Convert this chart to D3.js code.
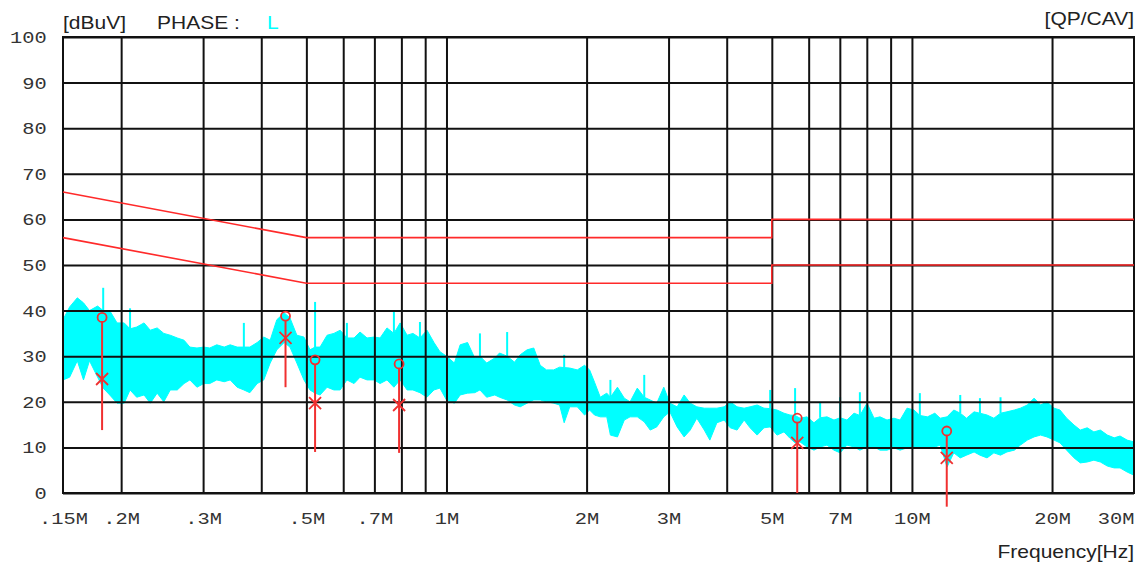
<!DOCTYPE html>
<html>
<head>
<meta charset="utf-8">
<script src="https://cdn.jsdelivr.net/npm/d3@7"></script>
<style>
  html, body { margin: 0; padding: 0; background: #fff; }
  svg { display: block; }
</style>
</head>
<body>
<svg id="chart" width="1143" height="565"></svg>
<script>
// axis ticks
const yTicks = [0, 10, 20, 30, 40, 50, 60, 70, 80, 90, 100];
const xTickMHz = [0.15, 0.2, 0.3, 0.5, 0.7, 1, 2, 3, 5, 7, 10, 20, 30];
const xTickLabels = ['.15M', '.2M', '.3M', '.5M', '.7M', '1M', '2M', '3M', '5M', '7M', '10M', '20M', '30M'];
const xGridMHz = [0.2, 0.3, 0.4, 0.5, 0.6, 0.7, 0.8, 0.9, 1, 2, 3, 4, 5, 6, 7, 8, 9, 10, 20];

// limit lines (dBuV)
const qpLimitMHz = [0.15, 0.5, 5, 5, 30];
const qpLimit    = [66, 56, 56, 60, 60];
const avLimitMHz = [0.15, 0.5, 5, 5, 30];
const avLimit    = [56, 46, 46, 50, 50];

// peak markers
const peakMHz    = [0.182, 0.451, 0.522, 0.791, 5.67, 11.88];
const peakQP     = [38.5, 38.8, 29.2, 28.3, 16.4, 13.6];
const peakAV     = [25.0, 34.0, 19.7, 19.3, 11.0, 7.7];
const peakBottom = [13.8, 23.2, 9.0, 8.8, 0.0, -3.0];

// scan trace body, min / max per column
const traceMHz = [0.150,0.155,0.161,0.166,0.171,0.178,0.183,0.189,0.196,0.203,0.209,0.216,0.224,0.231,0.239,0.247,0.255,0.264,0.273,0.281,
  0.291,0.301,0.310,0.321,0.333,0.343,0.355,0.367,0.378,0.392,0.405,0.418,0.432,0.448,0.461,0.477,0.494,0.509,0.522,0.535,
  0.554,0.573,0.591,0.611,0.633,0.652,0.675,0.699,0.720,0.745,0.771,0.795,0.823,0.847,0.877,0.908,0.940,0.968,1.00,1.04,
  1.07,1.11,1.15,1.18,1.22,1.27,1.30,1.35,1.40,1.44,1.49,1.54,1.59,1.64,1.70,1.75,1.79,1.84,1.91,1.98,
  2.03,2.08,2.14,2.21,2.25,2.33,2.41,2.48,2.57,2.66,2.74,2.83,2.93,3.02,3.13,3.24,3.34,3.45,3.58,3.68,
  3.81,3.95,4.07,4.21,4.36,4.49,4.65,4.81,4.96,5.13,5.31,5.47,5.61,5.75,5.95,6.16,6.35,6.57,6.80,7.01,
  7.25,7.51,7.73,8.01,8.29,8.54,8.84,9.15,9.43,9.76,10.1,10.4,10.8,11.2,11.5,11.9,12.3,12.7,13.1,13.6,
  14.0,14.5,15.0,15.5,16.0,16.6,17.1,17.7,18.3,18.9,19.5,20.2,20.8,21.5,22.3,23.0,23.8,24.6,25.4,26.3,
  27.2,28.0,29.0,30.0];
const traceLo = [24.8,25.4,29.0,24.8,29.0,25.4,23.0,21.5,19.7,19.7,22.6,21.0,21.5,19.7,21.9,20.0,22.6,22.6,24.0,24.8,
  23.2,24.0,24.0,24.8,24.4,24.8,23.2,22.6,22.0,24.0,24.8,28.5,31.4,33.0,32.0,28.5,24.8,22.6,21.9,21.5,
  23.2,22.6,22.6,24.8,24.0,25.4,24.8,24.8,24.0,24.8,23.2,24.8,22.6,22.6,22.0,21.0,22.6,23.0,20.4,19.7,
  21.5,21.9,22.0,22.6,21.0,21.5,21.0,20.4,19.3,18.9,19.7,20.4,20.4,20.0,19.7,19.3,15.4,18.9,18.9,17.1,
  18.2,17.1,16.7,16.7,12.7,12.3,16.0,16.7,16.7,15.6,13.8,14.5,16.7,17.8,14.5,12.3,13.8,16.4,13.8,11.6,
  15.4,16.0,14.3,13.8,16.0,14.3,12.7,14.3,14.5,12.7,13.4,12.0,11.0,11.2,10.1,9.4,10.1,10.5,9.4,8.8,
  10.5,10.1,9.4,10.1,10.1,9.4,9.4,9.9,9.4,9.9,10.1,10.1,10.1,10.1,10.5,5.7,8.8,7.7,8.3,9.0,
  8.3,7.7,8.8,8.3,9.0,9.4,10.5,11.6,12.3,12.7,12.3,11.6,11.0,9.4,7.7,6.6,6.8,7.2,6.8,5.9,
  5.5,5.5,4.6,3.9];
const traceHi = [38.0,40.8,42.8,41.7,40.0,41.0,40.0,40.0,37.3,37.3,36.0,36.4,37.3,35.7,36.2,35.0,34.6,34.0,33.5,32.0,
  31.8,32.0,31.8,32.5,32.0,32.5,32.0,32.0,32.0,33.0,34.2,33.5,38.0,39.5,38.4,34.6,34.2,31.4,32.0,32.0,
  34.6,35.0,35.7,34.0,34.0,35.3,34.0,34.2,34.0,36.2,35.0,37.3,34.6,35.0,34.0,35.7,33.0,31.0,30.0,28.5,
  32.5,33.0,29.6,30.0,28.5,29.6,30.7,30.0,28.7,30.3,31.4,31.8,28.0,27.0,27.0,27.6,27.5,27.4,27.0,28.0,
  27.0,24.3,21.0,21.9,21.0,23.2,20.8,20.0,23.0,21.0,20.4,19.7,23.2,19.7,18.9,21.5,19.7,18.9,18.6,18.6,
  18.6,18.9,20.0,18.9,18.6,18.9,19.3,18.6,18.5,18.2,17.5,17.1,17.0,16.4,16.7,15.4,16.5,16.7,16.0,16.5,
  16.0,17.5,17.0,19.7,16.4,16.7,16.0,16.4,16.0,18.6,18.2,17.0,16.7,17.5,16.4,16.7,18.2,17.5,16.4,17.8,
  17.5,17.1,16.4,17.5,17.8,18.2,18.6,19.3,20.8,19.3,20.0,18.6,18.2,16.4,14.9,13.8,14.3,13.4,13.8,12.7,
  12.1,12.5,11.6,11.2];

// narrow spikes rising above the body
const spikeMHz = [0.183, 0.209, 0.367, 0.522, 0.611, 0.771, 0.877, 1.18, 1.35, 1.79, 2.25, 2.66,
  4.96, 5.61, 6.35, 7.01, 7.73, 10.4, 12.7, 14.0, 15.5];
const spikeTop = [45.0, 40.5, 37.3, 41.9, 37.3, 39.7, 37.5, 35.0, 35.3, 30.3, 24.8, 25.9,
  22.6, 23.0, 20.0, 21.0, 22.1, 21.9, 21.5, 20.8, 21.0];
const spikeBase = [40.0, 36.0, 32.0, 32.0, 34.0, 35.0, 34.0, 30.0, 30.0, 27.5, 21.0, 21.0,
  18.5, 17.0, 16.5, 16.5, 17.0, 17.0, 17.5, 17.5, 17.5];

const svg = d3.select('#chart');
const plotL = 63, plotR = 1134, plotT = 37, plotB = 493;
const fontMono = "'Liberation Mono', 'DejaVu Sans Mono', monospace";
const fontSans = "'Liberation Sans', Arial, sans-serif";
const stretch = 'scale(1.2,1)';
const cyan = '#00ffff';

const x = d3.scaleLog().domain([0.15, 30]).range([plotL, plotR]);
const y = d3.scaleLinear().domain([0, 100]).range([plotB, plotT]);

// trace (under the grid): min/max body plus spikes
const traceRows = traceMHz.map((f, i) => ({ f, lo: traceLo[i], hi: traceHi[i] }));
svg.append('path')
    .datum(traceRows)
    .attr('fill', cyan)
    .attr('stroke', cyan)
    .attr('stroke-width', 1)
    .attr('d', d3.area().x(d => x(d.f)).y0(d => y(d.lo)).y1(d => y(d.hi)));

svg.append('g')
    .selectAll('line')
    .data(spikeMHz)
    .join('line')
    .attr('x1', d => x(d)).attr('x2', d => x(d))
    .attr('y1', (d, i) => y(spikeBase[i])).attr('y2', (d, i) => y(spikeTop[i]))
    .attr('stroke', cyan)
    .attr('stroke-width', 2);

// grid
svg.append('g')
    .attr('transform', `translate(0,${plotB})`)
    .call(d3.axisBottom(x).tickValues(xGridMHz).tickSize(-(plotB - plotT)).tickFormat(''))
    .call(g => g.select('.domain').remove())
    .call(g => g.selectAll('line').attr('stroke', '#111').attr('stroke-width', 2));

svg.append('g')
    .attr('transform', `translate(${plotL},0)`)
    .call(d3.axisLeft(y).tickValues(yTicks).tickSize(-(plotR - plotL)).tickFormat(''))
    .call(g => g.select('.domain').remove())
    .call(g => g.selectAll('line').attr('stroke', '#111').attr('stroke-width', 2));

svg.append('rect')
    .attr('x', plotL).attr('y', plotT)
    .attr('width', plotR - plotL).attr('height', plotB - plotT)
    .attr('fill', 'none').attr('stroke', '#111').attr('stroke-width', 2);

// tick labels
svg.append('g')
    .attr('transform', `translate(${plotL},0)`)
    .call(d3.axisLeft(y).tickValues(yTicks).tickSize(0).tickPadding(13.5))
    .call(g => g.select('.domain').remove())
    .call(g => g.selectAll('text')
        .attr('font-family', fontMono).attr('font-size', 17)
        .attr('fill', '#333').attr('transform', stretch));

svg.append('g')
    .attr('transform', `translate(0,${plotB})`)
    .call(d3.axisBottom(x).tickValues(xTickMHz).tickSize(0).tickPadding(19)
        .tickFormat((d, i) => xTickLabels[i]))
    .call(g => g.select('.domain').remove())
    .call(g => g.selectAll('text')
        .attr('font-family', fontMono).attr('font-size', 17)
        .attr('fill', '#333').attr('transform', stretch))
    .call(g => g.selectAll('text').filter((d, i) => i === xTickMHz.length - 1)
        .attr('text-anchor', 'end'));

// limits
const limitLine = d3.line().x(d => x(d[0])).y(d => y(d[1]));
[[qpLimitMHz, qpLimit], [avLimitMHz, avLimit]].forEach(([fs, vs]) => {
    svg.append('path')
        .datum(fs.map((f, i) => [f, vs[i]]))
        .attr('fill', 'none')
        .attr('stroke', '#ff2a2a')
        .attr('stroke-width', 1.6)
        .attr('d', limitLine);
});

// peaks
const peaks = svg.append('g').attr('stroke', '#f03030').attr('fill', 'none');
peakMHz.forEach((f, i) => {
    const px = x(f);
    peaks.append('line')
        .attr('x1', px).attr('x2', px)
        .attr('y1', y(peakQP[i]) + 4.5).attr('y2', y(peakBottom[i]))
        .attr('stroke-width', 2);
    peaks.append('circle')
        .attr('cx', px).attr('cy', y(peakQP[i])).attr('r', 4.5)
        .attr('stroke-width', 1.8);
    const ay = y(peakAV[i]);
    peaks.append('path')
        .attr('d', `M${px - 6},${ay - 6}L${px + 6},${ay + 6}M${px - 6},${ay + 6}L${px + 6},${ay - 6}`)
        .attr('stroke-width', 1.8);
});

// header / footer text
function label(tx, ty, text, anchor, color) {
    svg.append('text')
        .attr('transform', `translate(${tx},${ty}) ${stretch}`)
        .attr('text-anchor', anchor)
        .attr('font-family', fontSans).attr('font-size', 17.5)
        .attr('fill', color)
        .text(text);
}
label(63, 29, '[dBuV]', 'start', '#222');
label(157, 29, 'PHASE :', 'start', '#222');
label(267, 29, 'L', 'start', cyan);
label(1134, 25, '[QP/CAV]', 'end', '#222');
label(1134, 558, 'Frequency[Hz]', 'end', '#222');
</script>
</body>
</html>
